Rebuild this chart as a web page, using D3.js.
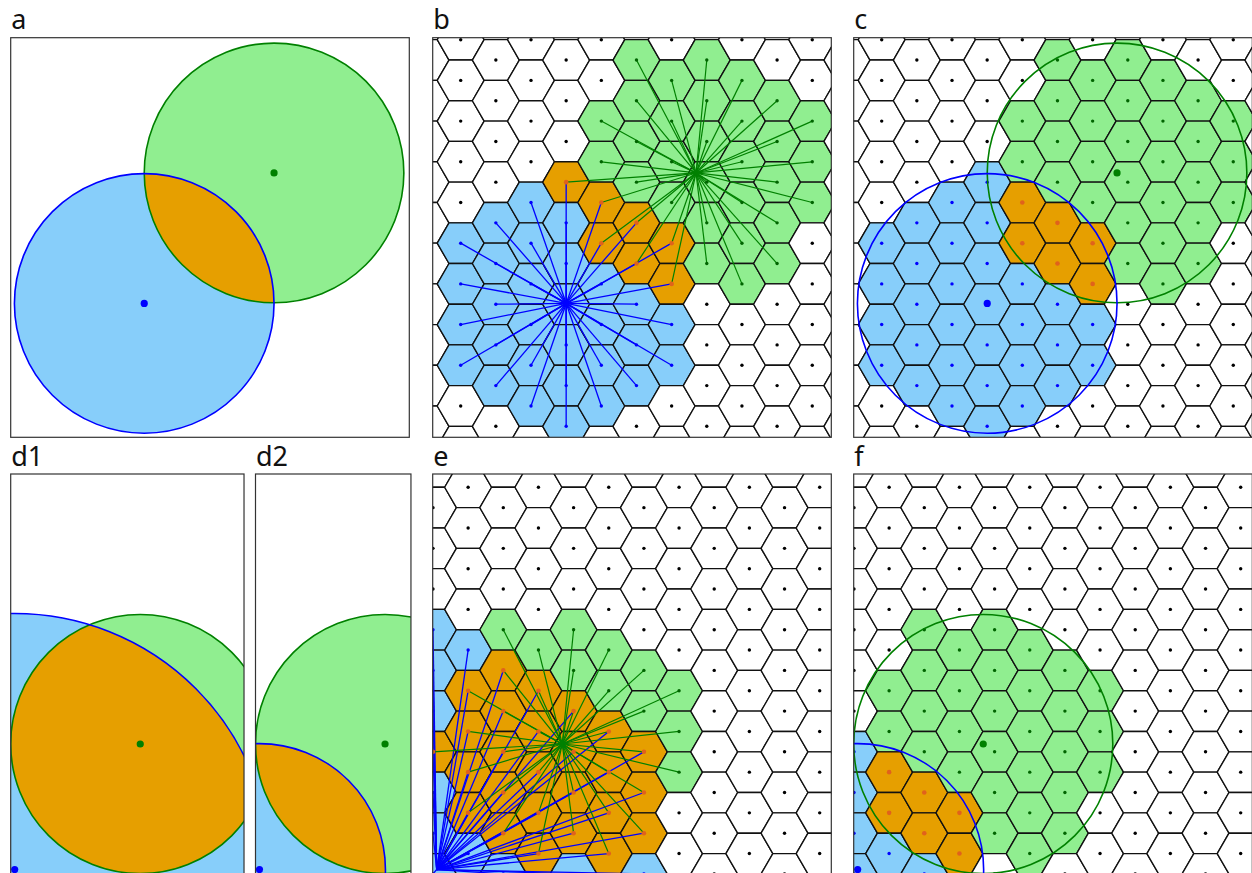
<!DOCTYPE html>
<html>
<head>
<meta charset="utf-8">
<script src="https://cdn.jsdelivr.net/npm/d3@7"></script>
<style>
  body { margin: 0; background: #fff; }
  text.panel-label { font-family: "Noto Sans", "DejaVu Sans", sans-serif; font-size: 27px; fill: #111; }
</style>
</head>
<body>
<div id="fig"></div>
<script>
// Panel coordinates are in units, y pointing up; one square panel is 3 units wide.

// circle centres [x, y] and radii, top row (a, b, c)
var blueTop = [1.005, 1.0];
var greenTop = [1.982, 1.982];
var radiusTop = 0.977;

// circle centres and radii, bottom row (d1, d2, e, f)
var blueBottom = [0.03, 0.023];
var greenBottom = [0.975, 0.968];
var radiusGreenBottom = 0.975;
var radiusBlueD1 = 1.927;
var radiusBlueD2 = 0.948;

// hexagonal lattice: column step, row step
var latticeStep = [0.2646, 0.3063];
// first visible column x, its top point y, which column parity sits half a row higher
var latticeTop = [0.2107, 2.985, 0];
var latticeBottom = [0.002, 2.900, 1];

// cell membership, one string per visible lattice column, top row first
// . none, b blue, g green, o both
var cellsB = [".....bbbb.", "....bbbbb.", "....bbbbbb", "...obbbbbb", "..ggoobbbb",
              "ggggoobbb.", ".ggggoobb.", "gggggg....", ".gggggg...", ".ggggg....", "..ggg....."];
var cellsC = [".....bbbb.", "....bbbbb.", "....bbbbbb", "...bbbbbbb", "..ggoobbbb",
              "ggggoobbb.", ".ggggoobb.", "gggggg....", ".gggggg...", ".ggggg....", "..ggg....."];
var cellsE = ["...bbbobbb", "....boooob", "...gooooob", "....gooooo", "...ggoooob", "....ggoooo",
              "....ggooob", ".....ggg..", "..........", "..........", "..........", ".........."];
var cellsF = ["......bbbb", ".....ggoob", "...ggggoob", "....ggggoo", "...gggggg.", "....gggggg",
              "....ggggg.", ".....ggg..", "..........", "..........", "..........", ".........."];

var panelLabels = ["a", "b", "c", "d1", "d2", "e", "f"];

// ---- layout ----
var W = 1252, H = 873;
var side = 398.6, pxPerUnit = side / 3;
var colLeft = [10.7, 432.7, 853.7];
var rowTop = [37.7, 474];
var fillOf = { ".": "#ffffff", "b": "#87cefa", "g": "#90ee90", "o": "#e69f00" };
var dotOf = { ".": "#000000", "b": "#0000ff", "g": "#006400", "o": "#e0621c" };

var svg = d3.select("#fig").append("svg").attr("width", W).attr("height", H);

function makePanel(id, left, top, wUnits, hPx) {
   var w = wUnits * pxPerUnit;
   var p = {
      id: id, left: left, top: top, w: w, h: hPx,
      x: d3.scaleLinear().domain([0, wUnits]).range([left, left + w]),
      y: d3.scaleLinear().domain([0, 3]).range([top + side, top])
   };
   svg.append("clipPath").attr("id", "clip-" + id)
      .append("rect").attr("x", left).attr("y", top).attr("width", w).attr("height", hPx);
   p.g = svg.append("g").attr("clip-path", "url(#clip-" + id + ")");
   return p;
}

function frame(p, label) {
   svg.append("rect").attr("x", p.left).attr("y", p.top).attr("width", p.w).attr("height", p.h)
      .attr("fill", "none").attr("stroke", "#333").attr("stroke-width", 1.2);
   svg.append("text").attr("class", "panel-label")
      .attr("x", p.left + 0.5).attr("y", p.top - 8.5).text(label);
}

// filled overlap of two discs, orange where they meet
function discs(p, blue, rb, green, rg) {
   var bx = p.x(blue[0]), by = p.y(blue[1]), gx = p.x(green[0]), gy = p.y(green[1]);
   var rbPx = rb * pxPerUnit, rgPx = rg * pxPerUnit;
   p.g.append("circle").attr("cx", bx).attr("cy", by).attr("r", rbPx).attr("fill", fillOf.b);
   p.g.append("circle").attr("cx", gx).attr("cy", gy).attr("r", rgPx).attr("fill", fillOf.g);
   p.g.append("clipPath").attr("id", "blue-disc-" + p.id)
      .append("circle").attr("cx", bx).attr("cy", by).attr("r", rbPx);
   p.g.append("circle").attr("cx", gx).attr("cy", gy).attr("r", rgPx)
      .attr("fill", fillOf.o).attr("clip-path", "url(#blue-disc-" + p.id + ")");
   rings(p, blue, rb, green, rg);
}

function rings(p, blue, rb, green, rg) {
   p.g.append("circle").attr("cx", p.x(green[0])).attr("cy", p.y(green[1])).attr("r", rg * pxPerUnit)
      .attr("fill", "none").attr("stroke", "green").attr("stroke-width", 1.6);
   p.g.append("circle").attr("cx", p.x(blue[0])).attr("cy", p.y(blue[1])).attr("r", rb * pxPerUnit)
      .attr("fill", "none").attr("stroke", "blue").attr("stroke-width", 1.6);
}

function centres(p, blue, green) {
   p.g.append("circle").attr("cx", p.x(green[0])).attr("cy", p.y(green[1])).attr("r", 3.6).attr("fill", "green");
   p.g.append("circle").attr("cx", p.x(blue[0])).attr("cy", p.y(blue[1])).attr("r", 3.6).attr("fill", "blue");
}

// lattice runs one ring past the visible columns/rows so edge cells are cut, not stretched
function lattice(p, cells, origin) {
   var pts = [];
   for (var c = -1; c <= cells.length; c++) {
      var col = cells[c] || "";
      var high = ((c % 2) + 2) % 2 === origin[2];
      for (var r = -1; r <= 10; r++) {
         var yu = origin[1] - r * latticeStep[1] - (high ? 0 : latticeStep[1] / 2);
         pts.push({ kind: col[r] || ".", px: p.x(origin[0] + c * latticeStep[0]), py: p.y(yu) });
      }
   }
   return pts;
}

function hexCells(p, pts) {
   var pad = 80;
   var vor = d3.Delaunay.from(pts, function(d) { return d.px; }, function(d) { return d.py; })
      .voronoi([p.left - pad, p.top - pad, p.left + p.w + pad, p.top + p.h + pad]);
   p.g.selectAll(".cell").data(pts).enter().append("path").attr("class", "cell")
      .attr("d", function(d, i) { return vor.renderCell(i); })
      .attr("fill", function(d) { return fillOf[d.kind]; })
      .attr("stroke", "#111").attr("stroke-width", 1.35).attr("stroke-linejoin", "round");
}

function spokes(p, pts, blue, green) {
   var bx = p.x(blue[0]), by = p.y(blue[1]), gx = p.x(green[0]), gy = p.y(green[1]);
   p.g.selectAll(".spoke-b").data(pts.filter(function(d) { return d.kind === "b" || d.kind === "o"; }))
      .enter().append("line").attr("class", "spoke-b")
      .attr("x1", bx).attr("y1", by).attr("x2", function(d) { return d.px; }).attr("y2", function(d) { return d.py; })
      .attr("stroke", "blue").attr("stroke-width", 1.3);
   p.g.selectAll(".spoke-g").data(pts.filter(function(d) { return d.kind === "g" || d.kind === "o"; }))
      .enter().append("line").attr("class", "spoke-g")
      .attr("x1", gx).attr("y1", gy).attr("x2", function(d) { return d.px; }).attr("y2", function(d) { return d.py; })
      .attr("stroke", "green").attr("stroke-width", 1.2);
}

function dots(p, pts) {
   p.g.selectAll(".dot").data(pts).enter().append("circle").attr("class", "dot")
      .attr("cx", function(d) { return d.px; }).attr("cy", function(d) { return d.py; })
      .attr("r", function(d) { return d.kind === "o" ? 2.3 : 1.7; })
      .attr("fill", function(d) { return dotOf[d.kind]; });
}

// a
var pa = makePanel("a", colLeft[0], rowTop[0], 3, 399.6);
discs(pa, blueTop, radiusTop, greenTop, radiusTop);
centres(pa, blueTop, greenTop);
frame(pa, panelLabels[0]);

// b
var pb = makePanel("b", colLeft[1], rowTop[0], 3, 399.6);
var ptsB = lattice(pb, cellsB, latticeTop);
hexCells(pb, ptsB);
spokes(pb, ptsB, blueTop, greenTop);
dots(pb, ptsB);
frame(pb, panelLabels[1]);

// c
var pc = makePanel("c", colLeft[2], rowTop[0], 3, 399.6);
var ptsC = lattice(pc, cellsC, latticeTop);
hexCells(pc, ptsC);
dots(pc, ptsC);
rings(pc, blueTop, radiusTop, greenTop, radiusTop);
centres(pc, blueTop, greenTop);
frame(pc, panelLabels[2]);

// d1, d2
var pd1 = makePanel("d1", colLeft[0], rowTop[1], 1.756, 420);
discs(pd1, blueBottom, radiusBlueD1, greenBottom, radiusGreenBottom);
centres(pd1, blueBottom, greenBottom);
frame(pd1, panelLabels[3]);

var pd2 = makePanel("d2", 255.5, rowTop[1], 1.17, 420);
discs(pd2, blueBottom, radiusBlueD2, greenBottom, radiusGreenBottom);
centres(pd2, blueBottom, greenBottom);
frame(pd2, panelLabels[4]);

// e
var pe = makePanel("e", colLeft[1], rowTop[1], 3, 420);
var ptsE = lattice(pe, cellsE, latticeBottom);
hexCells(pe, ptsE);
spokes(pe, ptsE, blueBottom, greenBottom);
dots(pe, ptsE);
frame(pe, panelLabels[5]);

// f
var pf = makePanel("f", colLeft[2], rowTop[1], 3, 420);
var ptsF = lattice(pf, cellsF, latticeBottom);
hexCells(pf, ptsF);
dots(pf, ptsF);
rings(pf, blueBottom, radiusBlueD2, greenBottom, radiusGreenBottom);
centres(pf, blueBottom, greenBottom);
frame(pf, panelLabels[6]);
</script>
</body>
</html>
